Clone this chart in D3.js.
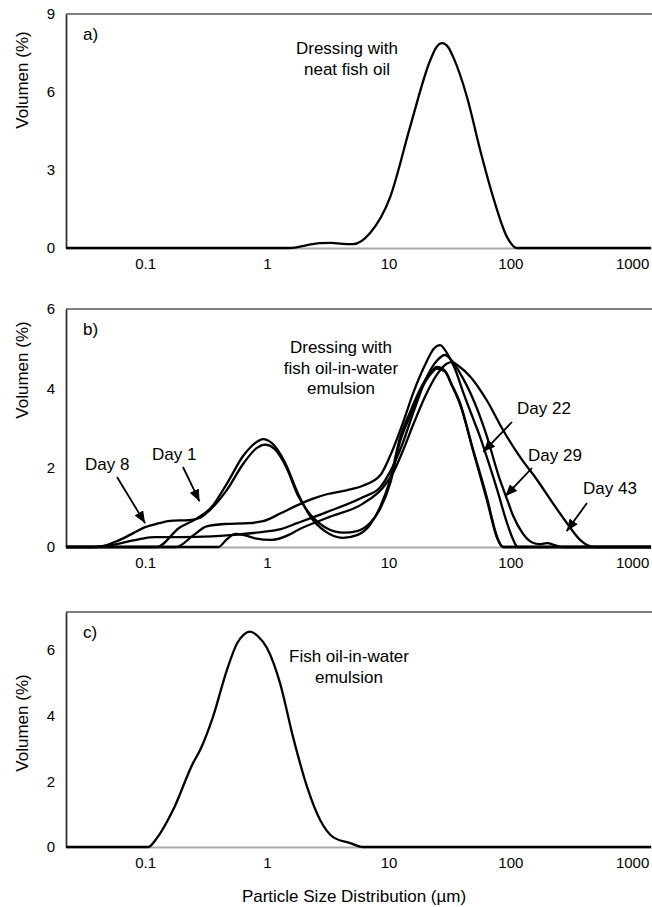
<!DOCTYPE html>
<html>
<head>
<meta charset="utf-8">
<script src="https://cdn.jsdelivr.net/npm/d3@7"></script>
<style>
  html, body { margin: 0; padding: 0; background: #fff; }
  svg { display: block; font-family: "Liberation Sans", Arial, sans-serif; }
  .tick text { font-size: 15px; fill: #000; }
  .note { font-size: 17px; fill: #000; }
</style>
</head>
<body>
<script>
/*
 * Particle size distribution of three samples, volume % against size (µm),
 * drawn as three stacked panels that share a log x axis.
 */

// x axis (µm)
const xTicks = [0.1, 1, 10, 100, 1000];
const xLabels = ['0.1', '1', '10', '100', '1000'];

// a) dressing with neat fish oil
const sizeA = [0.0224, 1.55, 2.1, 2.7, 3.4, 4.2, 5.1, 7.05, 10.3, 15, 21.9, 24.5,
               27.5, 30.9, 33.9, 44.1, 56.5, 72.2, 94, 113, 1430];
const volA = [0, 0, 0.1, 0.19, 0.2, 0.16, 0.15, 0.58, 1.96, 4.65, 7.2, 7.7,
              7.88, 7.72, 7.35, 5.8, 3.77, 1.96, 0.42, 0, 0];
const yTicksA = [0, 3, 6, 9];

// b) dressing with fish oil-in-water emulsion, storage days
const sizeDay1 = [0.0224, 0.125, 0.19, 0.27, 0.35, 0.47, 0.64, 0.8, 0.93, 1.1, 1.4,
                  1.8, 2.3, 3.0, 4.2, 5.5, 7.0, 8.5, 10.3, 12.4, 15, 18, 22, 25, 29,
                  33, 38.6, 49.5, 64, 78, 86, 1430];
const volDay1 = [0, 0, 0.48, 0.73, 1.0, 1.6, 2.3, 2.62, 2.72, 2.62, 2.15,
                 1.35, 0.75, 0.4, 0.23, 0.3, 0.55, 1.0, 1.7, 2.75, 3.4, 3.95, 4.4, 4.54, 4.45,
                 4.1, 3.63, 2.45, 1.26, 0.25, 0, 0];

const sizeDay8 = [0.0224, 0.04, 0.062, 0.08, 0.1, 0.13, 0.16, 0.23, 0.28, 0.34, 0.47,
                  0.64, 0.83, 0.97, 1.15, 1.45, 1.8, 2.3, 3.0, 4.3, 5.5, 7.0, 8.5, 10.3,
                  12.4, 15, 18, 22, 25, 29, 33, 38.6, 49.5, 64, 78, 88, 1430];
const volDay8 = [0, 0, 0.18, 0.35, 0.5, 0.6, 0.66, 0.68, 0.73, 0.93, 1.44,
                 2.1, 2.5, 2.58, 2.48, 2.0, 1.3, 0.8, 0.5, 0.36, 0.4, 0.6, 0.95, 1.6,
                 2.65, 3.3, 3.9, 4.35, 4.5, 4.42, 4.08, 3.6, 2.42, 1.2, 0.22, 0, 0];

const sizeDay22 = [0.0224, 0.18, 0.25, 0.32, 0.45, 0.7, 0.93, 1.3, 1.77, 2.4, 3.1,
                   4.5, 6.2, 8.5, 10.3, 13, 16, 20, 23.5, 26.5, 30, 35, 41, 50, 56.5,
                   64, 78, 94, 105, 115, 1430];
const volDay22 = [0, 0, 0.3, 0.52, 0.58, 0.6, 0.65, 0.85, 1.05, 1.22, 1.33,
                  1.43, 1.55, 1.8, 2.3, 3.1, 3.9, 4.6, 5.0, 5.09, 4.9, 4.5, 3.9, 3.2, 2.77,
                  2.27, 1.44, 0.6, 0.2, 0, 0];

const sizeDay29 = [0.0224, 0.035, 0.06, 0.09, 0.12, 0.2, 0.35, 0.5, 0.7, 0.93, 1.3,
                   1.77, 3.1, 6.2, 8.5, 10.3, 13, 16, 20, 25, 29, 33, 40, 46.7, 64, 80,
                   94, 105, 126, 150, 175, 200, 235, 270, 1430];
const volDay29 = [0, 0, 0.08, 0.2, 0.25, 0.25, 0.27, 0.3, 0.34, 0.38, 0.45,
                  0.6, 0.88, 1.26, 1.5, 1.9, 2.6, 3.4, 4.2, 4.7, 4.84, 4.7, 4.3, 3.9, 2.8, 1.8,
                  1.2, 0.8, 0.35, 0.12, 0.07, 0.1, 0.04, 0, 0];

const sizeDay43 = [0.0224, 0.4, 0.47, 0.55, 0.65, 0.8, 1.1, 1.5, 1.8, 3.1, 6.2, 9,
                   11, 13, 16, 20, 25, 30, 33, 38, 46.7, 64, 87, 120, 166, 224, 292,
                   374, 427, 500, 1430];
const volDay43 = [0, 0, 0.2, 0.33, 0.3, 0.22, 0.18, 0.3, 0.43, 0.73, 1.1, 1.5,
                  1.9, 2.4, 3.1, 3.8, 4.35, 4.62, 4.66, 4.55, 4.3, 3.7, 2.95, 2.27, 1.69, 1.1, 0.6,
                  0.18, 0.05, 0, 0];
const yTicksB = [0, 2, 4, 6];

// day labels and the point on the curve each arrow points at [µm, %]
const dayNames = ['Day 8', 'Day 1', 'Day 22', 'Day 29', 'Day 43'];
const dayArrowTips = [[0.1, 0.6], [0.28, 1.15], [60, 2.4], [91, 1.28], [290, 0.4]];

// c) fish oil-in-water emulsion
const sizeC = [0.0224, 0.106, 0.125, 0.17, 0.248, 0.283, 0.361, 0.471, 0.57, 0.65,
               0.728, 0.84, 1.0, 1.28, 1.64, 2.14, 2.74, 3.5, 4.83, 6.17, 1430];
const volC = [0, 0, 0.27, 1.13, 2.56, 2.95, 3.96, 5.4, 6.2, 6.47,
              6.55, 6.42, 6.06, 5.0, 3.35, 1.83, 0.82, 0.3, 0.12, 0, 0];
const yTicksC = [0, 2, 4, 6];

/*
 * Layout.
 */

const WIDTH = 652;
const HEIGHT = 907;
const PLOT_LEFT = 66;
const PLOT_RIGHT = 651;
const LINE_WIDTH = 2.3;

const svg = d3.select('body')
  .append('svg')
    .attr('width', WIDTH)
    .attr('height', HEIGHT);

svg.append('defs')
  .append('marker')
    .attr('id', 'head')
    .attr('viewBox', '0 0 12 10')
    .attr('refX', 12)
    .attr('refY', 5)
    .attr('markerUnits', 'userSpaceOnUse')
    .attr('markerWidth', 12)
    .attr('markerHeight', 10)
    .attr('orient', 'auto')
  .append('path')
    .attr('d', 'M0,0 L12,5 L0,10 Z')
    .attr('fill', '#000');

const xScale = d3.scaleLog()
    .domain([0.0224, 1430])
    .range([PLOT_LEFT, PLOT_RIGHT]);

/*
 * Draws one panel: frame, axes, curves and its notes.
 */

const addPanel = (top, bottom, yMax, yTicks, series, letter, noteLines, noteX, noteY, titleY) => {
  const yScale = d3.scaleLinear()
      .domain([0, yMax])
      .range([bottom, top]);

  const g = svg.append('g');

  // top border
  g.append('line')
      .attr('x1', PLOT_LEFT)
      .attr('x2', PLOT_RIGHT + 1)
      .attr('y1', top)
      .attr('y2', top)
      .attr('stroke', '#555')
      .attr('stroke-width', 1.6);

  // x axis, grey baseline
  const xAxis = d3.axisBottom(xScale)
      .tickValues(xTicks)
      .tickFormat((d, i) => xLabels[i])
      .tickSize(0)
      .tickPadding(10);

  g.append('g')
      .attr('transform', `translate(0, ${bottom})`)
      .call(xAxis)
      .call(a => a.select('.domain')
        .attr('stroke', '#aaa')
        .attr('stroke-width', 2))
      .call(a => a.selectAll('text').attr('font-family', null));

  // y axis
  const yAxis = d3.axisLeft(yScale)
      .tickValues(yTicks)
      .tickFormat(d3.format('d'))
      .tickSize(0)
      .tickPadding(11);

  g.append('g')
      .attr('transform', `translate(${PLOT_LEFT}, 0)`)
      .call(yAxis)
      .call(a => a.select('.domain')
        .attr('stroke', '#333')
        .attr('stroke-width', 1.8))
      .call(a => a.selectAll('text').attr('font-family', null));

  // y axis title
  g.append('text')
      .attr('class', 'note')
      .attr('transform', `translate(28, ${titleY}) rotate(-90)`)
      .attr('text-anchor', 'middle')
      .text('Volumen (%)');

  // curves
  const line = d3.line()
      .x(d => xScale(d[0]))
      .y(d => yScale(d[1]))
      .curve(d3.curveMonotoneX);

  series.forEach(s => {
    g.append('path')
        .datum(d3.zip(s[0], s[1]))
        .attr('d', line)
        .attr('fill', 'none')
        .attr('stroke', '#000')
        .attr('stroke-width', LINE_WIDTH)
        .attr('stroke-linejoin', 'round');
  });

  // panel letter
  g.append('text')
      .attr('class', 'note')
      .attr('x', 83)
      .attr('y', top + 26)
      .text(letter);

  // sample note
  g.append('text')
      .attr('class', 'note')
      .attr('text-anchor', 'middle')
    .selectAll('tspan')
    .data(noteLines)
    .enter()
    .append('tspan')
      .attr('x', noteX)
      .attr('y', (d, i) => noteY + i * 20.5)
      .text(d => d);

  return yScale;
};

/*
 * Three panels.
 */

addPanel(14, 248, 9, yTicksA, [[sizeA, volA]], 'a)',
         ['Dressing with', 'neat fish oil'], 347, 54, 80);

const yScaleB = addPanel(309, 547, 6, yTicksB,
         [[sizeDay1, volDay1], [sizeDay8, volDay8], [sizeDay22, volDay22],
          [sizeDay29, volDay29], [sizeDay43, volDay43]], 'b)',
         ['Dressing with', 'fish oil-in-water', 'emulsion'], 341, 353, 370);

addPanel(612, 847, 7.15, yTicksC, [[sizeC, volC]], 'c)',
         ['Fish oil-in-water', 'emulsion'], 349, 662, 723);

// day labels with arrows in panel b (label position, arrow tail offset)
const dayLabelPos = [[85, 470], [152, 460], [517, 414], [528, 461], [583, 494]];
const dayTailPos = [[117, 477], [183, 467], [512, 422], [532, 468], [587, 503]];

dayNames.forEach((name, i) => {
  svg.append('text')
      .attr('class', 'note')
      .attr('x', dayLabelPos[i][0])
      .attr('y', dayLabelPos[i][1])
      .text(name);

  svg.append('line')
      .attr('x1', dayTailPos[i][0])
      .attr('y1', dayTailPos[i][1])
      .attr('x2', xScale(dayArrowTips[i][0]))
      .attr('y2', yScaleB(dayArrowTips[i][1]))
      .attr('stroke', '#000')
      .attr('stroke-width', 1.8)
      .attr('marker-end', 'url(#head)');
});

// shared x axis title
svg.append('text')
    .attr('class', 'note')
    .attr('x', 354)
    .attr('y', 902)
    .attr('text-anchor', 'middle')
    .text('Particle Size Distribution (µm)');
</script>
</body>
</html>
